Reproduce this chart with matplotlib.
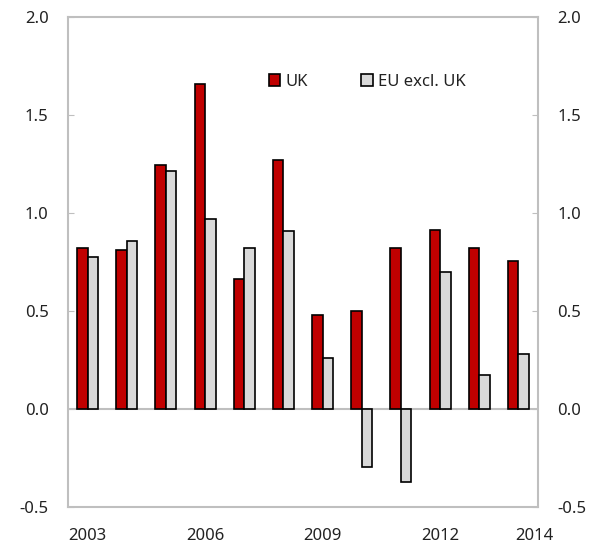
import numpy as np
import matplotlib
matplotlib.use("Agg")
import matplotlib.pyplot as plt

years = list(range(2003, 2015))
uk = [0.82, 0.81, 1.245, 1.66, 0.665, 1.27, 0.48, 0.50, 0.82, 0.915, 0.82, 0.755]
eu_excl_uk = [0.775, 0.855, 1.215, 0.97, 0.82, 0.91, 0.26, -0.295, -0.37, 0.70, 0.175, 0.28]
tick_years = [2003, 2006, 2009, 2012, 2014]
yticks = [-0.5, 0.0, 0.5, 1.0, 1.5, 2.0]

plt.rcParams['font.family'] = ['Noto Sans', 'DejaVu Sans']
grey = '#BFBFBF'

fig = plt.figure(figsize=(5.97, 5.5), dpi=100)
ax = fig.add_axes([68 / 597, 43 / 550, 470 / 597, 490 / 550])

x = np.arange(len(years))
w = 0.27
ax.bar(x - w / 2, uk, w, color='#C00000', edgecolor='black', linewidth=1.2, label='UK', zorder=3)
ax.bar(x + w / 2, eu_excl_uk, w, color='#D9D9D9', edgecolor='black', linewidth=1.2,
       label='EU excl. UK', zorder=3)
ax.axhline(0, color=grey, linewidth=1.5, zorder=2)

ax.set_xlim(-0.5, len(years) - 0.5)
ax.set_ylim(-0.5, 2.0)
ax.set_yticks(yticks)
ax.set_yticklabels([f'{v:.1f}' for v in yticks])

# x labels: last one sits a bit right of its group, as in the original
pos = [years.index(y) for y in tick_years]
pos[-1] += 0.4
ax.set_xticks(pos)
ax.set_xticklabels([str(y) for y in tick_years])
ax.tick_params(axis='x', length=0, pad=15, labelsize=12, colors='#222222')
ax.tick_params(axis='y', direction='in', length=4, color=grey, pad=14, labelsize=12,
               labelcolor='#222222')

for s in ax.spines.values():
    s.set_color(grey)
    s.set_linewidth(1.5)

ax2 = ax.twinx()
ax2.set_ylim(ax.get_ylim())
ax2.set_yticks(yticks)
ax2.set_yticklabels([f'{v:.1f}' for v in yticks])
ax2.tick_params(axis='y', direction='in', length=4, color=grey, pad=14, labelsize=12,
                labelcolor='#222222')
for s in ax2.spines.values():
    s.set_visible(False)

ax.legend(loc='upper left', bbox_to_anchor=(0.395, 0.915), ncol=2, frameon=False,
          handlelength=0.7, handleheight=0.7, handletextpad=0.3, columnspacing=3.2,
          fontsize=12, labelcolor='#222222')

plt.savefig('out.png', dpi=100)
plt.close()
